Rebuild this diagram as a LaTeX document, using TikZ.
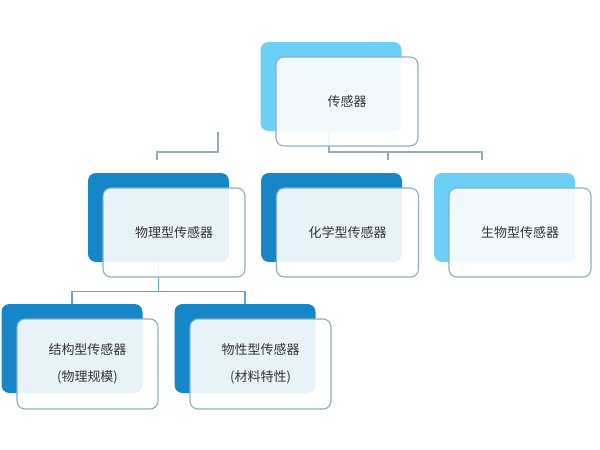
\documentclass[tikz,border=0pt]{standalone}
\usepackage{fontspec}
\setmainfont{Noto Sans CJK SC}
\begin{document}
\begin{tikzpicture}[x=1pt,y=-1pt,
  backbox/.style={rounded corners=8pt, minimum width=141pt, minimum height=89pt, inner sep=0pt, draw=none},
  darkback/.style={backbox, fill=darkblue},
  lightback/.style={backbox, fill=lightblue},
  frontbox/.style={rounded corners=8pt, minimum width=142pt, minimum height=89pt, inner sep=0pt,
     draw=framecol, line width=1.1pt, fill=white, fill opacity=0.9, text opacity=1,
     text=textcol, font=\fontsize{13pt}{15pt}\selectfont, align=center},
  conn/.style={draw=conncol, line width=1.2pt},
  conn2/.style={draw=conncolb, line width=1.2pt}
]
\definecolor{darkblue}{HTML}{1587C9}
\definecolor{lightblue}{HTML}{6BCFF6}
\definecolor{framecol}{HTML}{8AAFC3}
\definecolor{textcol}{HTML}{333333}
\definecolor{conncol}{HTML}{8FAFC0}
\definecolor{conncolb}{HTML}{5AA9D8}
\useasboundingbox (0,0) rectangle (600,450);

% back rectangles
\node[lightback] (topback) at (331,86.5) {};
\node[darkback] (physback) at (158.5,217.5) {};
\node[darkback] (chemback) at (331.5,217.5) {};
\node[lightback] (bioback) at (504.5,217.5) {};
\node[darkback] (structback) at (72,348.5) {};
\node[darkback] (propback) at (245,348.5) {};

% connectors
\coordinate (j1) at (329,152);
\coordinate (t1) at (388,160);
\coordinate (t2) at (482,160);
\coordinate (l0) at (218,132);
\coordinate (l1) at (157,160);
\draw[conn] (topback.south -| j1) -- (j1) -- (j1 -| t2) -- (t2);
\draw[conn] (j1 -| t1) -- (t1);
\draw[conn] (l0) -- (l0 |- j1) -| (l1);
\draw[conn2] (physback.south) -- ++(0,29) coordinate (j2);
\draw[conn2] (j2 -| structback.north) -- (structback.north);
\draw[conn2] (j2 -| structback.north) -- (j2 -| propback.north) -- (propback.north);

% front rectangles
\node[frontbox] (top) at (347,101.5) {传感器};
\node[frontbox] (phys) at (174,232.5) {物理型传感器};
\node[frontbox] (chem) at (347.5,232.5) {化学型传感器};
\node[frontbox] (bio) at (520,232.5) {生物型传感器};
\node[frontbox, minimum height=90pt, minimum width=141pt] (struct) at (87.5,364) {结构型传感器\\[12pt](物理规模)};
\node[frontbox, minimum height=90pt, minimum width=141pt] (prop) at (260.5,364) {物性型传感器\\[12pt](材料特性)};
\end{tikzpicture}
\end{document}
